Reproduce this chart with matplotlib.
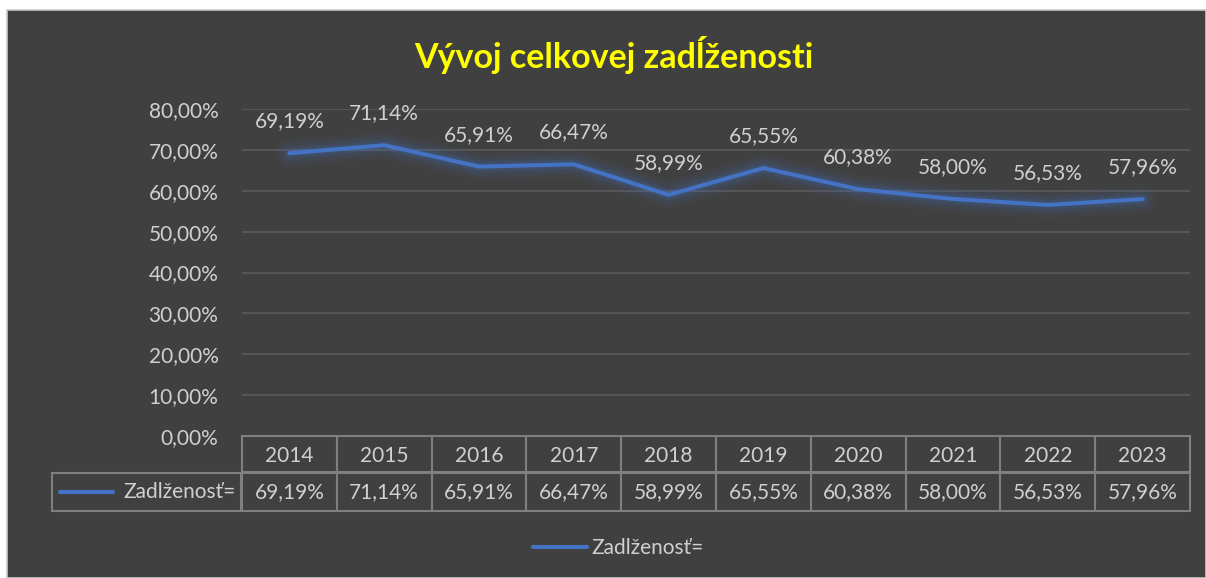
import matplotlib
matplotlib.use("Agg")
import matplotlib.pyplot as plt
import matplotlib.patches as patches
from matplotlib.ticker import FuncFormatter

# --- Data ---
years = ["2014", "2015", "2016", "2017", "2018", "2019", "2020", "2021", "2022", "2023"]
zadlzenost = [69.19, 71.14, 65.91, 66.47, 58.99, 65.55, 60.38, 58.00, 56.53, 57.96]
series_name = "Zadlženosť="
title = "Vývoj celkovej zadĺženosti"
y_ticks = [0, 10, 20, 30, 40, 50, 60, 70, 80]

# --- Style ---
BG = "#404040"
TXT = "#d0d0d0"
GRID = "#5a5a5a"
CELL = "#7f7f7f"
LINE = "#4472C4"
FONT = "Lato"
FS = 15

W, H = 1206, 578
fig = plt.figure(figsize=(W / 100, H / 100), dpi=100, facecolor="white")

# chart background with thin border
fig.patches.append(patches.Rectangle((7 / W, 0), 1 - 7 / W, 1 - 10 / H, transform=fig.transFigure,
                                     facecolor=BG, edgecolor="#c8c8c8", linewidth=1.2, zorder=-10))

# plot area in pixels: x 242..1190, y 109 (80%) .. 436 (0%)
ax = fig.add_axes([242 / W, 1 - 436 / H, (1190 - 242) / W, (436 - 109) / H])
ax.set_facecolor("none")
for s in ax.spines.values():
    s.set_visible(False)

x = list(range(len(years)))
ax.set_xlim(-0.5, len(years) - 0.5)
ax.set_ylim(0, 80)
ax.set_yticks(y_ticks)
ax.yaxis.set_major_formatter(FuncFormatter(lambda v, p: f"{v:.2f}%".replace(".", ",")))
ax.tick_params(axis="y", length=0, pad=17, labelcolor=TXT, labelsize=FS)
ax.tick_params(axis="x", length=0, labelbottom=False)
for lab in ax.get_yticklabels():
    lab.set_fontfamily(FONT)
ax.grid(axis="y", color=GRID, linewidth=1.2)
ax.set_axisbelow(True)

# glow around the line
for lw, a in [(20, 0.05), (15, 0.07), (10, 0.1), (6.5, 0.15)]:
    ax.plot(x, zadlzenost, color=LINE, linewidth=lw, alpha=a, solid_capstyle="round",
            solid_joinstyle="round", zorder=2)
ax.plot(x, zadlzenost, color=LINE, linewidth=2.9, solid_capstyle="round", zorder=3, label=series_name)

for xi, v in zip(x, zadlzenost):
    ax.annotate(f"{v:.2f}%".replace(".", ","), (xi, v), xytext=(0, 23), textcoords="offset points",
                ha="center", va="center", color=TXT, fontsize=FS, fontfamily=FONT)

# --- data table under the axis ---
tr = ax.get_xaxis_transform()
ph = 436 - 109
r1_top, r1_bot = 0, -36 / ph
r2_top, r2_bot = -37 / ph, -75 / ph
for xi, (yr, v) in enumerate(zip(years, zadlzenost)):
    ax.add_patch(patches.Rectangle((xi - 0.5, r1_bot), 1, r1_top - r1_bot, transform=tr, fill=False,
                                   edgecolor=CELL, linewidth=1.5, clip_on=False))
    ax.add_patch(patches.Rectangle((xi - 0.5, r2_bot), 1, r2_top - r2_bot, transform=tr, fill=False,
                                   edgecolor=CELL, linewidth=1.5, clip_on=False))
    ax.text(xi, (r1_top + r1_bot) / 2 - 0.005, yr, transform=tr, ha="center", va="center",
            color=TXT, fontsize=FS, fontfamily=FONT)
    ax.text(xi, (r2_top + r2_bot) / 2, f"{v:.2f}%".replace(".", ","), transform=tr, ha="center",
            va="center", color=TXT, fontsize=FS, fontfamily=FONT)

# legend cell of the table
px = 1 / 94.8
left = -0.5 - (242 - 52) * px
ax.add_patch(patches.Rectangle((left, r2_bot), -0.5 - left - 1 * px, r2_top - r2_bot, transform=tr,
                               fill=False, edgecolor=CELL, linewidth=1.5, clip_on=False))
ymid = (r2_top + r2_bot) / 2
ax.plot([left + 8 * px, left + 61 * px], [ymid, ymid], transform=tr, color=LINE, linewidth=3,
        solid_capstyle="round", clip_on=False)
ax.text(-0.5 - 6 * px, ymid, series_name, transform=tr, ha="right", va="center",
        color=TXT, fontsize=FS, fontfamily=FONT)

# --- title ---
fig.text(0.509, 1 - 55 / H, title, ha="center", va="center", color="#FFFF00",
         fontsize=24.5, fontweight="bold", fontfamily=FONT)

# --- bottom legend ---
fig.legend(loc="center", bbox_to_anchor=(0.513, 1 - 548 / H), frameon=False, handlelength=2.6,
           handletextpad=0.2, prop={"family": FONT, "size": FS}, labelcolor=TXT)

fig.savefig("out.png", dpi=100, facecolor=fig.get_facecolor())
